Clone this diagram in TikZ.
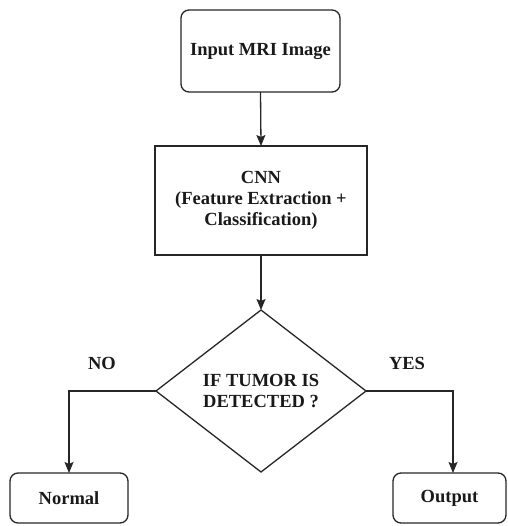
\documentclass[tikz,border=0pt]{standalone}
\usepackage{fontspec}
\setmainfont{Liberation Serif}
\usetikzlibrary{shapes.geometric,arrows.meta}
\begin{document}
\begin{tikzpicture}[x=1pt,y=-1pt,
  every node/.style={font=\fontsize{18.5}{21}\selectfont\bfseries, text=black!90, align=center, inner sep=0pt, outer sep=0pt},
  box/.style={draw=black!85, line width=1.3pt},
  rbox/.style={box, rounded corners=8pt},
  dia/.style={box, diamond, aspect=1.3, minimum width=210pt, minimum height=162pt},
  conn/.style={draw=black!85, line width=1.3pt, -{Stealth[length=11pt,width=9pt,inset=2pt]}},
  lbl/.style={font=\fontsize{18.5}{21}\selectfont\bfseries}
]
\useasboundingbox (0,0) rectangle (507,526);
\node[rbox, minimum width=159pt, minimum height=82pt] (inp) at (260.5,51) {Input MRI Image};
\node[box, minimum width=212pt, minimum height=109pt] (cnn) at (261,200.5) {CNN\\(Feature Extraction +\\Classification)};
\node[dia] (dec) at (261,391) {IF TUMOR IS\\DETECTED ?};
\node[rbox, minimum width=118pt, minimum height=50pt] (nor) at (69,498) {Normal};
\node[rbox, minimum width=113pt, minimum height=50pt] (out) at (449.5,498) {Output};
\node[lbl] (no) at (102,363) {NO};
\node[lbl] (yes) at (407,363) {YES};
\draw[conn] (inp.south) -- (cnn.north);
\draw[conn] (cnn.south) -- (dec.north);
\draw[conn] (dec.west) -| (nor.north);
\draw[conn] (dec.east) -| ([xshift=3.5pt]out.north);
\end{tikzpicture}
\end{document}
